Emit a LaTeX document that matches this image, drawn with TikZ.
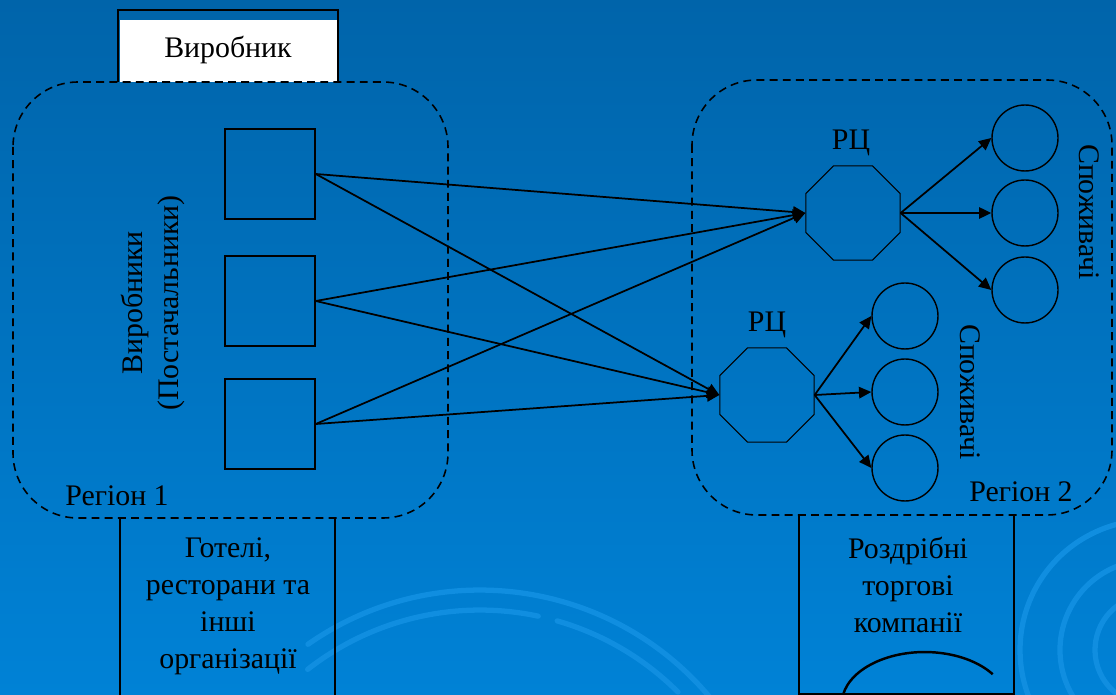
\documentclass[tikz,border=0pt]{standalone}
\usepackage{fontspec}
\setmainfont{Liberation Serif}
\usetikzlibrary{shapes.geometric, arrows.meta}
\definecolor{SlideTop}{RGB}{0,100,170}
\definecolor{SlideBottom}{RGB}{0,130,214}
\definecolor{SwirlBlue}{RGB}{16,142,224}

\begin{document}
\begin{tikzpicture}[x=0.02cm, y=-0.02cm,
    every node/.style={font=\fontsize{17}{21}\selectfont},
    region/.style={draw, dash pattern=on 4.5pt off 3pt, line width=0.9pt, rounded corners=1.3cm},
    plant/.style={draw, line width=0.9pt, minimum size=1.8cm, inner sep=0pt},
    dc/.style={draw, regular polygon, regular polygon sides=8, minimum size=2.04cm, inner sep=0pt, line width=0.6pt},
    buyer/.style={draw, circle, minimum size=1.32cm, inner sep=0pt, line width=0.8pt},
    flow/.style={line width=1pt, -{Triangle[length=7pt,width=6.5pt]}},
    swirl/.style={SwirlBlue, line width=3pt, line cap=round}]

    % Background
    \shade[top color=SlideTop, bottom color=SlideBottom] (0,0) rectangle (1116,695);
    \useasboundingbox (0,0) rectangle (1116,695);
    \begin{scope}
      \clip (0,0) rectangle (1116,695);
      \draw[swirl] (480,890) ++(125:6cm) arc[start angle=125, end angle=40, radius=6cm];
      \draw[swirl] (480,890) ++(128:5.6cm) arc[start angle=128, end angle=78, radius=5.6cm];
      \draw[swirl] (480,890) ++(74:5.6cm) arc[start angle=74, end angle=45, radius=5.6cm];
      \draw[swirl] (1150,650) ++(80:2.6cm) arc[start angle=80, end angle=220, radius=2.6cm];
      \draw[swirl] (1150,650) ++(110:1.8cm) arc[start angle=110, end angle=230, radius=1.8cm];
      \draw[swirl] (1150,650) ++(120:1.1cm) arc[start angle=120, end angle=250, radius=1.1cm];
    \end{scope}

    % Boxes
    \fill[white] (120,20) rectangle (337,82);
    \draw[line width=0.9pt] (118,82) -- (118,10) -- (338,10) -- (338,82);
    \node (maker) at (228,50) {Виробник};

    \draw[line width=0.9pt] (120,697) -- (120,518);
    \draw[line width=0.9pt] (335,697) -- (335,518);
    \node[align=center] (horeca) at (228,606) {Готелі,\\ресторани та\\інші\\організації};

    \draw[line width=0.9pt] (799,515) -- (799,694) -- (1014,694) -- (1014,515);
    \node[align=center] (retail) at (908,585) {Роздрібні\\торгові\\компанії};
    \draw[line width=1.4pt] (843,695) arc[start angle=170, end angle=35, x radius=1.66cm, y radius=1.04cm];

    % Regions
    \draw[region] (13,82) rectangle (448,518);
    \draw[region] (692,80) rectangle (1112,515);
    \node (reg1) at (117,496) {Регіон 1};
    \node (reg2) at (1021,492) {Регіон 2};

    % Suppliers
    \node[plant] (p1) at (270,174) {};
    \node[plant] (p2) at (270,301) {};
    \node[plant] (p3) at (270,424) {};
    \node[rotate=90, align=center] (suppliers) at (153,303) {Виробники\\(Постачальники)};

    % Distribution centres
    \node[dc] (dc1) at (853,213) {};
    \node[dc] (dc2) at (767,395) {};
    \node (dc1lbl) at (851,143) {РЦ};
    \node (dc2lbl) at (767,325) {РЦ};

    % Consumers
    \node[buyer] (c11) at (1025,138) {};
    \node[buyer] (c12) at (1025,213) {};
    \node[buyer] (c13) at (1025,290) {};
    \node[buyer] (c21) at (905,316) {};
    \node[buyer] (c22) at (905,392) {};
    \node[buyer] (c23) at (905,468) {};
    \node[rotate=-90] (buyers1) at (1089,212) {Споживачі};
    \node[rotate=-90] (buyers2) at (970,392) {Споживачі};

    % Flows
    \foreach \p in {p1,p2,p3} {
      \draw[flow] (\p.east) -- (dc1.west);
      \draw[flow] (\p.east) -- (dc2.west);
    }
    \foreach \c in {c11,c12,c13}
      \draw[flow] (dc1.east) -- (\c.west);
    \foreach \c in {c21,c22,c23}
      \draw[flow] (dc2.east) -- (\c.west);
  \end{tikzpicture}
\end{document}
